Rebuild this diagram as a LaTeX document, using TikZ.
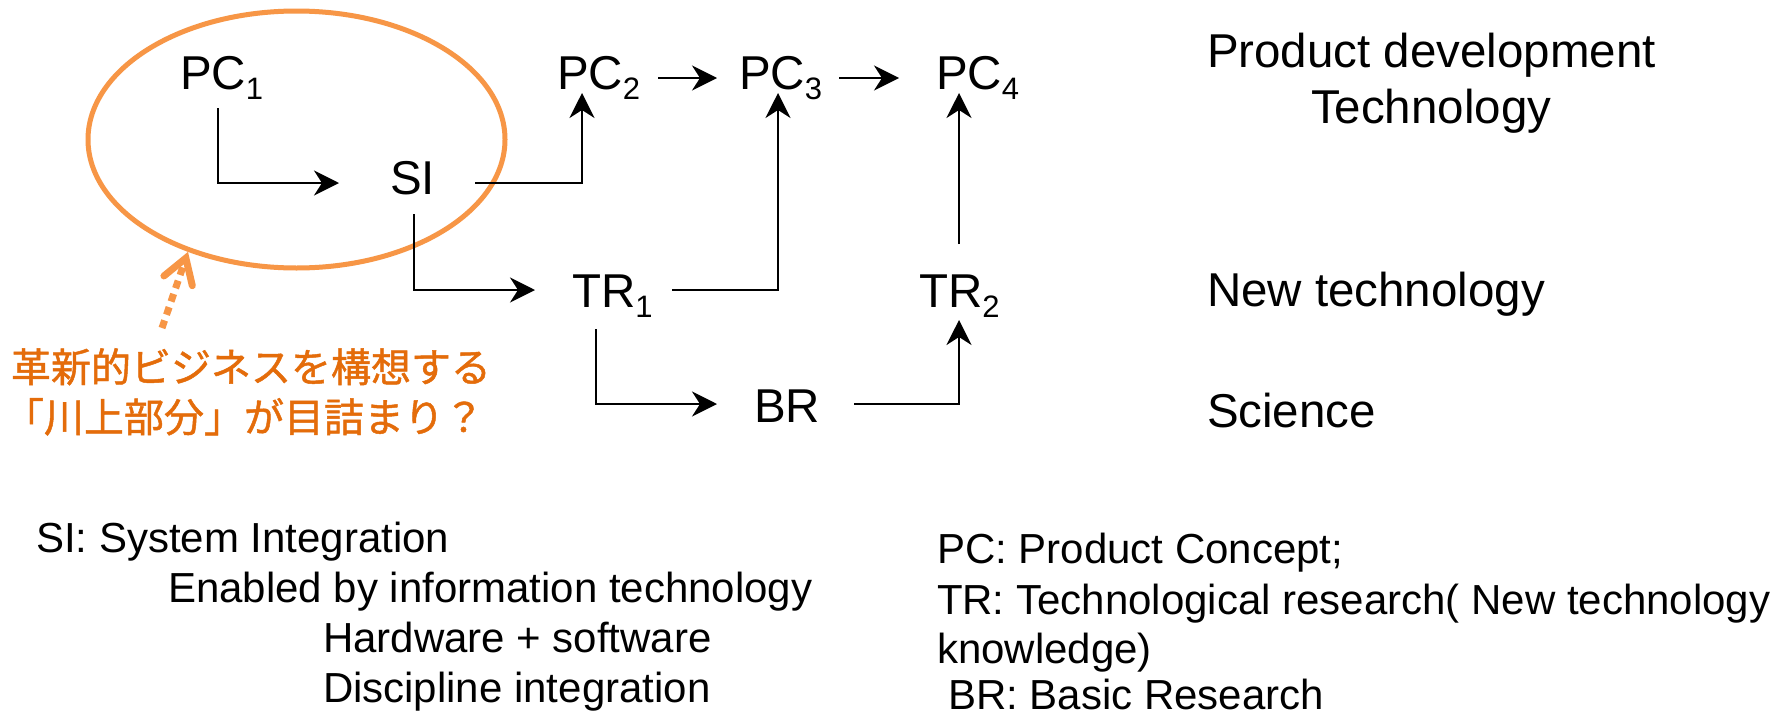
\documentclass[tikz,border=0pt]{standalone}
\usepackage{fontspec}
\setmainfont{Liberation Sans}
\newfontfamily\cjk[FakeBold=1.2]{Noto Sans CJK JP}
\usetikzlibrary{arrows.meta,shapes.geometric}
\definecolor{ellcol}{HTML}{F79646}
\definecolor{jpcol}{HTML}{E46C0A}
\newcommand\mysub[1]{\raisebox{-0.23em}{\fontsize{31}{31}\selectfont #1}}
\begin{document}
\begin{tikzpicture}[x=1pt,y=-1pt,
  lbl/.style={inner sep=0pt, outer sep=0pt, anchor=base west, font=\fontsize{47.5}{56}\selectfont},
  note/.style={inner sep=0pt, outer sep=0pt, anchor=base west, font=\fontsize{42}{50}\selectfont},
  jp/.style={inner sep=0pt, outer sep=0pt, anchor=base west, text=jpcol, font=\cjk\fontsize{40}{50}\selectfont},
  conn/.style={line width=2.2pt, -{Stealth[length=25pt,width=25pt,inset=8pt]}},
  hint/.style={draw=ellcol, line width=7pt, dash pattern=on 8pt off 6pt, -{Straight Barb[length=24pt,width=30pt,line cap=round]}},
]
\useasboundingbox (0,0) rectangle (1791,715);
\fill[white] (0,0) rectangle (1791,715);

% orange ellipse
\node[draw=ellcol, line width=5pt, ellipse, minimum width=417pt, minimum height=257pt, inner sep=0pt] (circ) at (296.5,139.5) {};

% main nodes
\node[lbl] (PC1) at (180,89) {PC\mysub{1}};
\node[lbl] (PC2) at (557,89) {PC\mysub{2}};
\node[lbl] (PC3) at (739,89) {PC\mysub{3}};
\node[lbl] (PC4) at (936,89) {PC\mysub{4}};
\node[lbl] (SI) at (390,194) {SI};
\node[lbl] (TR1) at (572,307) {TR\mysub{1}};
\node[lbl] (TR2) at (919,307) {TR\mysub{2}};
\node[lbl] (BR) at (754,422) {BR};

% connectors
\draw[conn] ([shift={(38,19)}]PC1.base west) |- ([shift={(-51,-11)}]SI.base west);
\draw[conn] ([shift={(85,-11)}]SI.base west) -| ([shift={(25,4)}]PC2.base west);
\draw[conn] ([shift={(24,20)}]SI.base west) |- ([shift={(-37,-17)}]TR1.base west);
\draw[conn] ([shift={(101,-11)}]PC2.base west) -- ([shift={(-22,-11)}]PC3.base west);
\draw[conn] ([shift={(100,-11)}]PC3.base west) -- ([shift={(-37,-11)}]PC4.base west);
\draw[conn] ([shift={(100,-17)}]TR1.base west) -| ([shift={(39,4)}]PC3.base west);
\draw[conn] ([shift={(24,22)}]TR1.base west) |- ([shift={(-37,-18)}]BR.base west);
\draw[conn] ([shift={(100,-18)}]BR.base west) -| ([shift={(40,13)}]TR2.base west);
\draw[conn] ([shift={(40,-63)}]TR2.base west) -- ([shift={(23,4)}]PC4.base west);

% right-hand level labels
\node[lbl] (pd) at (1207,67) {Product development};
\node[lbl] (tech) at (1311,123) {Technology};
\node[lbl] (nt) at (1207,306) {New technology};
\node[lbl] (sci) at (1207,427) {Science};

% japanese comment and its dotted arrow
\node[jp] (jp1) at (11,382) {革新的ビジネスを構想する};
\node[jp] (jp2) at (4,432) {「川上部分」が目詰まり？};
\coordinate (jptail) at (162,328);
\draw[hint] (jptail) -- (circ.226);

% legend texts
\node[note] (siL) at (36,552) {SI: System Integration};
\node[note] (enL) at (168,602) {Enabled by information technology};
\node[note] (hwL) at (323,652) {Hardware + software};
\node[note] (diL) at (323,702) {Discipline integration};
\node[note] (pcL) at (937,563) {PC: Product Concept;};
\node[note] (trL) at (937,614) {TR: Technological research( New technology};
\node[note] (knL) at (937,663) {knowledge)};
\node[note] (brL) at (948,709) {BR: Basic Research};
\end{tikzpicture}
\end{document}
